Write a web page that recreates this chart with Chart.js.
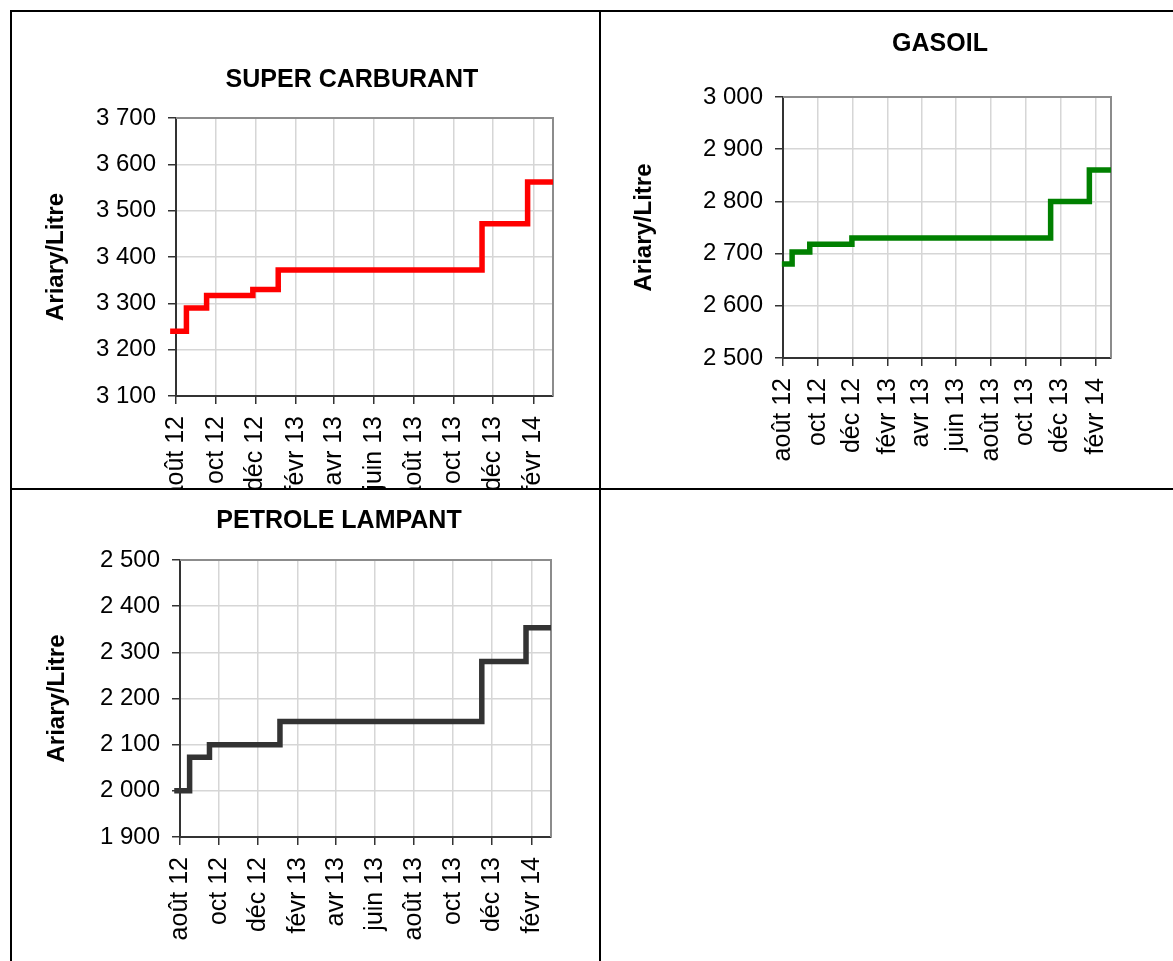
<!DOCTYPE html>
<html lang="fr">
<head>
<meta charset="utf-8">
<title>Prix des carburants</title>
<script src="https://cdn.jsdelivr.net/npm/chart.js@4.4.1/dist/chart.umd.min.js"></script>
<style>
  html, body { margin: 0; padding: 0; background: #fff; }
  body { position: relative; width: 1173px; height: 961px; overflow: hidden; }
  .rule { position: absolute; background: #000; }
  .cell { position: absolute; overflow: hidden; }
  .cell canvas { position: absolute; left: 0; top: 0; }
</style>
</head>
<body>
<div class="rule" style="left:10px;top:10px;width:1163px;height:2px"></div>
<div class="rule" style="left:10px;top:10px;width:2px;height:951px"></div>
<div class="rule" style="left:599px;top:10px;width:2px;height:951px"></div>
<div class="rule" style="left:10px;top:488px;width:1163px;height:2px"></div>

<div class="cell" style="left:12px;top:12px;width:587px;height:476px">
  <canvas id="chart-super" width="587" height="504"></canvas>
</div>
<div class="cell" style="left:601px;top:12px;width:572px;height:476px">
  <canvas id="chart-gasoil" width="572" height="466"></canvas>
</div>
<div class="cell" style="left:12px;top:490px;width:587px;height:471px">
  <canvas id="chart-petrole" width="587" height="467"></canvas>
</div>

<script>
// axe des dates (mois affichés)
const tickDates = ["2012-08-01", "2012-10-01", "2012-12-01", "2013-02-01", "2013-04-01",
  "2013-06-01", "2013-08-01", "2013-10-01", "2013-12-01", "2014-02-01"];
const tickLabels = ["août 12", "oct 12", "déc 12", "févr 13", "avr 13",
  "juin 13", "août 13", "oct 13", "déc 13", "févr 14"];

// prix en Ariary/Litre, chaque valeur s'applique à partir de sa date
const superDates = ["2012-07-23", "2012-08-17", "2012-09-17", "2012-11-27", "2013-01-05",
  "2013-11-14", "2014-01-23", "2014-03-03"];
const superValues = [3240, 3290, 3317, 3330, 3372, 3472, 3562, 3562];

const gasoilDates = ["2012-07-30", "2012-08-17", "2012-09-17", "2012-11-30",
  "2013-11-14", "2014-01-21", "2014-02-28"];
const gasoilValues = [2680, 2703, 2718, 2730, 2800, 2860, 2860];

const petroleDates = ["2012-07-23", "2012-08-16", "2012-09-16", "2013-01-04",
  "2013-11-15", "2014-01-23", "2014-03-03"];
const petroleValues = [2000, 2073, 2100, 2150, 2280, 2353, 2353];

const FONT = "'Liberation Sans', Arial, Helvetica, sans-serif";
const GRID = "#d6d6d6";
const AXIS = "#333333";

function dayOf(s) {
  const [y, m, d] = s.split("-").map(Number);
  return (Date.UTC(y, m - 1, d) - Date.UTC(2012, 7, 1)) / 86400000;
}

function frenchNumber(v) {
  return String(v).replace(/\B(?=(\d{3})+(?!\d))/g, " ");
}

const tickDays = tickDates.map(dayOf);

// cadre gris haut/droite de la zone de tracé
const plotFrame = {
  id: "plotFrame",
  beforeDatasetsDraw(chart) {
    const { ctx, chartArea: a } = chart;
    ctx.save();
    ctx.strokeStyle = "#8c8c8c";
    ctx.lineWidth = 2;
    ctx.beginPath();
    ctx.moveTo(a.left, a.top);
    ctx.lineTo(a.right, a.top);
    ctx.lineTo(a.right, a.bottom);
    ctx.stroke();
    ctx.restore();
  },
};

// titre placé comme dans le classeur
const panelTitle = {
  id: "panelTitle",
  afterDraw(chart, args, opts) {
    const ctx = chart.ctx;
    ctx.save();
    ctx.font = "bold 25px " + FONT;
    ctx.fillStyle = "#000";
    ctx.textAlign = "center";
    ctx.textBaseline = "middle";
    ctx.fillText(opts.text, opts.x, opts.y);
    ctx.restore();
  },
};

function makeChart(id, cfg) {
  const points = cfg.dates.map((d, i) => ({ x: dayOf(d), y: cfg.values[i] }));
  return new Chart(document.getElementById(id), {
    type: "line",
    data: {
      datasets: [{
        label: cfg.title,
        data: points,
        borderColor: cfg.color,
        borderWidth: 5.5,
        stepped: true,
        pointRadius: 0,
        borderCapStyle: "butt",
        borderJoinStyle: "miter",
        clip: 10,
      }],
    },
    options: {
      responsive: false,
      animation: false,
      devicePixelRatio: 1,
      layout: { padding: cfg.padding },
      plugins: {
        legend: { display: false },
        tooltip: { enabled: false },
        panelTitle: cfg.titlePos,
      },
      scales: {
        x: {
          type: "linear",
          min: 0,
          max: points[points.length - 1].x,
          afterBuildTicks: (scale) => {
            scale.ticks = tickDays.map((v) => ({ value: v }));
          },
          afterFit: (scale) => { scale.height = 120; },
          ticks: {
            autoSkip: false,
            minRotation: 90,
            maxRotation: 90,
            padding: 12,
            color: "#000",
            font: { family: FONT, size: 25 },
            callback: (v, i) => tickLabels[i],
          },
          grid: {
            color: (c) => (c.index === 0 ? "rgba(0,0,0,0)" : GRID),
            lineWidth: 1.5,
            tickLength: 8,
            tickColor: AXIS,
            tickWidth: 1.5,
          },
          border: { color: AXIS, width: 2 },
        },
        y: {
          min: cfg.yMin,
          max: cfg.yMax,
          afterFit: (scale) => { scale.width = cfg.yWidth; },
          ticks: {
            stepSize: 100,
            padding: 12,
            color: "#000",
            font: { family: FONT, size: 24 },
            callback: (v) => frenchNumber(v),
          },
          grid: {
            color: (c) => (c.index === 0 ? "rgba(0,0,0,0)" : GRID),
            lineWidth: 1.5,
            tickLength: 8,
            tickColor: AXIS,
            tickWidth: 1.5,
          },
          border: { color: AXIS, width: 2 },
          title: {
            display: true,
            text: "Ariary/Litre",
            color: "#000",
            padding: { top: 0, bottom: 0 },
            font: { family: FONT, size: 24, weight: "bold" },
          },
        },
      },
    },
    plugins: [plotFrame, panelTitle],
  });
}

makeChart("chart-super", {
  title: "SUPER CARBURANT",
  dates: superDates,
  values: superValues,
  color: "#ff0000",
  yMin: 3100,
  yMax: 3700,
  yWidth: 134,
  padding: { left: 30, right: 46, top: 106, bottom: 0 },
  titlePos: { text: "SUPER CARBURANT", x: 340, y: 68 },
});

makeChart("chart-gasoil", {
  title: "GASOIL",
  dates: gasoilDates,
  values: gasoilValues,
  color: "#008000",
  yMin: 2500,
  yMax: 3000,
  yWidth: 153,
  padding: { left: 29, right: 62, top: 85, bottom: 0 },
  titlePos: { text: "GASOIL", x: 339, y: 32 },
});

makeChart("chart-petrole", {
  title: "PETROLE LAMPANT",
  dates: petroleDates,
  values: petroleValues,
  color: "#333333",
  yMin: 1900,
  yMax: 2500,
  yWidth: 137,
  padding: { left: 31, right: 48, top: 70, bottom: 0 },
  titlePos: { text: "PETROLE LAMPANT", x: 327, y: 31 },
});
</script>
</body>
</html>
